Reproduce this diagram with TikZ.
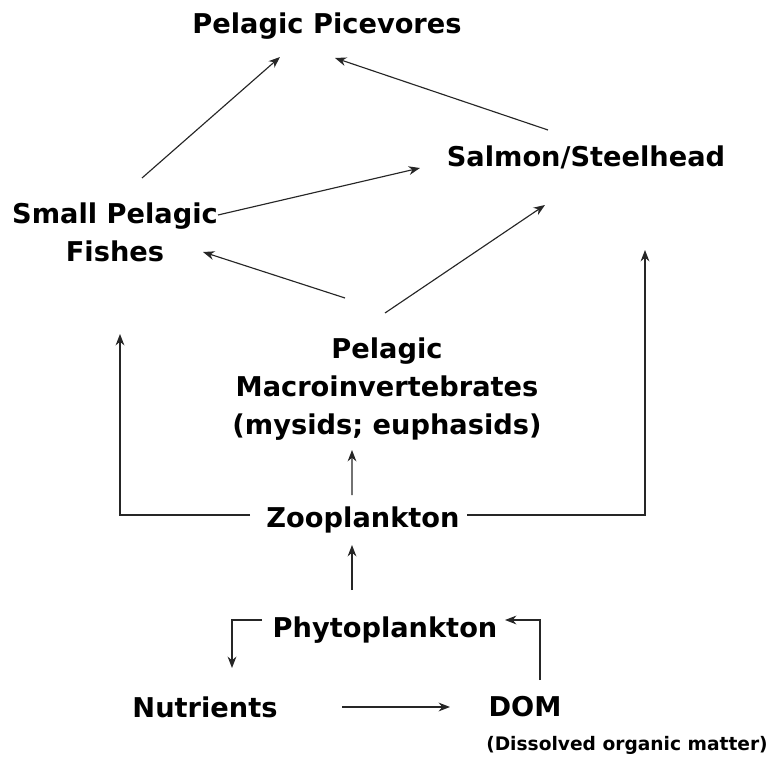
\documentclass[tikz,border=0pt]{standalone}
\usepackage{fontspec}
\setmainfont{DejaVu Sans}
\usepackage{tikz}
\usetikzlibrary{arrows.meta}

\tikzset{
  taxon/.style={font=\bfseries\fontsize{15.5}{21.5}\selectfont, align=center, inner sep=0pt},
  note/.style={font=\bfseries\fontsize{10.6}{12}\selectfont, inner sep=0pt},
  feed/.style={-{Stealth[length=6.5pt,width=5pt]}, line width=0.65pt, black!85}
}

\begin{document}
\begin{tikzpicture}
        \useasboundingbox (0,0) rectangle (15.5,15.26);
        % trophic levels
        \node[taxon] (pisc) at (6.54,14.74) {Pelagic Picevores};
        \node[taxon] (salmon) at (11.72,12.12) {Salmon/Steelhead};
        \node[taxon] (small) at (2.30,10.62) {Small Pelagic\\Fishes};
        \node[taxon] (macro) at (7.74,7.48) {Pelagic\\Macroinvertebrates\\(mysids; euphasids)};
        \node[taxon] (zoo) at (7.26,4.86) {Zooplankton};
        \node[taxon] (phyto) at (7.70,2.66) {Phytoplankton};
        \node[taxon] (nutr) at (4.10,1.12) {Nutrients};
        \node[taxon] (dom) at (10.50,1.12) {DOM};
        \node[note] (domnote) at (12.54,0.36) {(Dissolved organic matter)};
        % feeding links
        \draw[feed]([shift={(0.54,1.08)}]small.center)--([shift={(-0.94,-0.62)}]pisc.center);
        \draw[feed]([shift={(-0.76,0.54)}]salmon.center)--([shift={(0.16,-0.64)}]pisc.center);
        \draw[feed]([shift={(2.06,0.34)}]small.center)--([shift={(-3.32,-0.22)}]salmon.center);
        \draw[feed]([shift={(-0.84,1.82)}]macro.center)--([shift={(1.76,-0.40)}]small.center);
        \draw[feed]([shift={(-0.04,1.52)}]macro.center)--([shift={(-0.82,-0.96)}]salmon.center);
        \draw[feed]([shift={(-0.22,0.50)}]zoo.center)--([shift={(-0.70,-1.22)}]macro.center);
        \draw[feed]([shift={(-2.26,0.10)}]zoo.center)-|([shift={(0.10,-2.04)}]small.center);
        \draw[feed]([shift={(2.08,0.10)}]zoo.center)-|([shift={(1.18,-1.86)}]salmon.center);
        \draw[feed]([shift={(-0.66,0.80)}]phyto.center)--([shift={(-0.22,-0.50)}]zoo.center);
        % nutrient loop
        \draw[feed]([shift={(-2.46,0.20)}]phyto.center)-|([shift={(0.54,0.78)}]nutr.center);
        \draw[feed]([shift={(2.74,0)}]nutr.center)--([shift={(-1.50,0)}]dom.center);
        \draw[feed]([shift={(0.30,0.54)}]dom.center)|-([shift={(2.40,0.20)}]phyto.center);
      \end{tikzpicture}
\end{document}
